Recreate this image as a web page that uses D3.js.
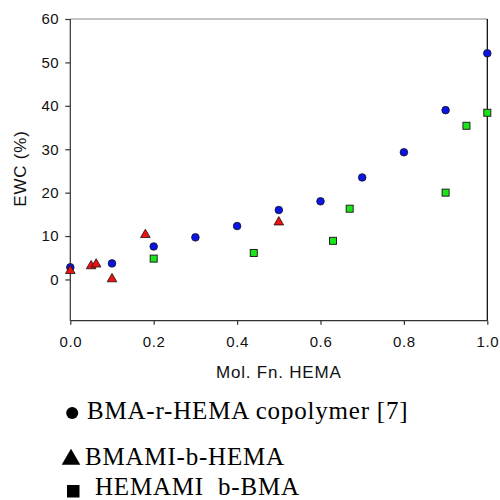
<!DOCTYPE html>
<html>
<head>
<meta charset="utf-8">
<script src="https://cdn.jsdelivr.net/npm/d3@7"></script>
<style>
  body { margin: 0; background: #fff; }
  svg text { font-family: "Liberation Sans", Arial, sans-serif; }
  svg text.lt { font-family: "Liberation Serif", "Times New Roman", serif; }
</style>
</head>
<body>
<div id="chart"></div>
<script>
// data
const copolymerX = [0, 0.1, 0.2, 0.3, 0.4, 0.5, 0.6, 0.7, 0.8, 0.9, 1.0]
const copolymerY = [2.8, 3.7, 7.6, 9.7, 12.3, 16.0, 18.0, 23.5, 29.3, 39.0, 52.1]

const bmamiX = [0, 0.05, 0.062, 0.1, 0.18, 0.5]
const bmamiY = [2.0, 3.1, 3.5, 0.1, 10.3, 13.2]

const hemamiX = [0.2, 0.44, 0.63, 0.67, 0.9, 0.95, 1.0]
const hemamiY = [4.8, 6.1, 8.9, 16.3, 20.0, 35.4, 38.4]

const xTicks = [0, 0.2, 0.4, 0.6, 0.8, 1.0]
const yTicks = [0, 10, 20, 30, 40, 50, 60]

const legendLabels = ["BMA-r-HEMA copolymer [7]", "BMAMI-b-HEMA", "HEMAMI\u00a0 b-BMA"]

const W = 500, H = 500
const plotLeft = 70.3, plotRight = 487.3, plotTop = 19, plotBottom = 320.7

const svg = d3.select("#chart").append("svg")
    .attr("width", W)
    .attr("height", H)

const x = d3.scaleLinear().domain([0, 1]).range([plotLeft, plotRight])
const y = d3.scaleLinear().domain([-9.5, 60]).range([plotBottom, plotTop])

// frame: top grey, right black
svg.append("line")
    .attr("x1", plotLeft).attr("x2", plotRight).attr("y1", plotTop).attr("y2", plotTop)
    .style("stroke", "#888").style("stroke-width", 1.2)
svg.append("line")
    .attr("x1", plotRight).attr("x2", plotRight).attr("y1", plotTop).attr("y2", plotBottom)
    .style("stroke", "#000").style("stroke-width", 1.2)

// axes
const xAxis = d3.axisBottom(x).tickValues(xTicks).tickFormat(d3.format(".1f")).tickSize(4).tickPadding(12)
const yAxis = d3.axisLeft(y).tickValues(yTicks).tickSize(5).tickPadding(6)

const gx = svg.append("g").attr("transform", `translate(0,${plotBottom})`).call(xAxis)
const gy = svg.append("g").attr("transform", `translate(${plotLeft},0)`).call(yAxis)

// y axis line should run the full height, no outer ticks
gy.select(".domain").attr("d", `M0,${plotTop}V${plotBottom}`)
gx.select(".domain").attr("d", `M${plotLeft},0H${plotRight}`)
gx.attr("font-family", null)
gy.attr("font-family", null)

svg.selectAll(".domain").style("stroke", "#333").style("stroke-width", 1.2)
svg.selectAll(".tick line").style("stroke", "#333").style("stroke-width", 1.2)
svg.selectAll(".tick text")
    .style("font-size", "15px")
    .style("letter-spacing", "0.6px")
    .style("fill", "#111")

// axis titles
svg.append("text")
    .attr("x", (plotLeft + plotRight) / 2)
    .attr("y", 378)
    .attr("text-anchor", "middle")
    .style("font-size", "17px")
    .style("letter-spacing", "0.8px")
    .style("fill", "#111")
    .text("Mol. Fn. HEMA")

svg.append("text")
    .attr("transform", `translate(20,${(130 + 207) / 2}) rotate(-90)`)
    .attr("text-anchor", "middle")
    .attr("dy", "0.35em")
    .style("font-size", "17px")
    .style("letter-spacing", "0.8px")
    .style("fill", "#111")
    .text("EWC (%)")

const plot = svg.append("g")

// BMA-r-HEMA circles
plot.selectAll(".circ")
    .data(copolymerX.map((v, i) => [v, copolymerY[i]]))
    .enter().append("circle")
    .attr("class", "circ")
    .attr("cx", d => x(d[0]))
    .attr("cy", d => y(d[1]))
    .attr("r", 3.8)
    .style("fill", "#0a14e6")
    .style("stroke", "#111")
    .style("stroke-width", 0.8)

// HEMAMI-b-BMA squares
const sq = 7
plot.selectAll(".sq")
    .data(hemamiX.map((v, i) => [v, hemamiY[i]]))
    .enter().append("rect")
    .attr("class", "sq")
    .attr("x", d => x(d[0]) - sq / 2)
    .attr("y", d => y(d[1]) - sq / 2)
    .attr("width", sq)
    .attr("height", sq)
    .style("fill", "#19e619")
    .style("stroke", "#222")
    .style("stroke-width", 1)

// BMAMI-b-HEMA triangles
const tri = d3.symbol().type(d3.symbolTriangle).size(40)
plot.selectAll(".tri")
    .data(bmamiX.map((v, i) => [v, bmamiY[i]]))
    .enter().append("path")
    .attr("class", "tri")
    .attr("d", tri)
    .attr("transform", d => `translate(${x(d[0])},${y(d[1])})`)
    .style("fill", "#f01010")
    .style("stroke", "#111")
    .style("stroke-width", 0.8)

// legend below the chart, serif
const legend = svg.append("g")

legend.append("circle").attr("cx", 72.2).attr("cy", 413).attr("r", 6).style("fill", "#000")
legend.append("path")
    .attr("d", d3.symbol().type(d3.symbolTriangle).size(150))
    .attr("transform", "translate(71,459.5)")
    .style("fill", "#000")
legend.append("rect").attr("x", 67).attr("y", 485).attr("width", 12.5).attr("height", 12.5).style("fill", "#000")

const legendX = [87, 85, 95]
const legendY = [419.3, 465, 495]
legend.selectAll(".lt")
    .data(legendLabels)
    .enter().append("text")
    .attr("class", "lt")
    .attr("x", (d, i) => legendX[i])
    .attr("y", (d, i) => legendY[i])
    .style("font-size", "25px")
    .style("letter-spacing", "0.8px")
    .style("fill", "#000")
    .text(d => d)
</script>
</body>
</html>
